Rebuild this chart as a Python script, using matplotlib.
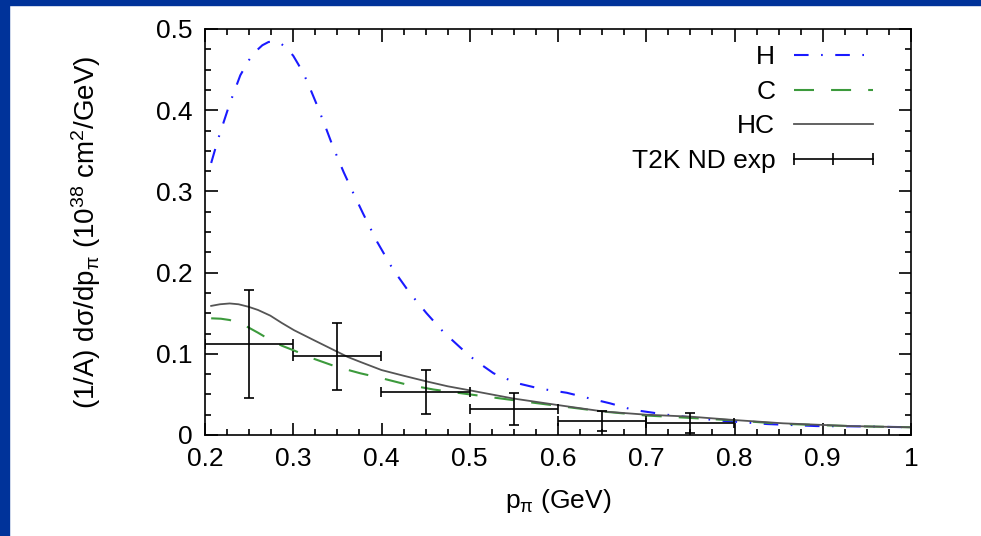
import numpy as np
import matplotlib
matplotlib.use("Agg")
import matplotlib.pyplot as plt
from matplotlib.lines import Line2D
from matplotlib.patches import Rectangle
from matplotlib.legend_handler import HandlerBase

plt.rcParams['font.family'] = ['Liberation Sans', 'DejaVu Sans']
plt.rcParams['mathtext.default'] = 'regular'

# H curve (dash-dot, blue)
h_x = [0.207, 0.215, 0.228, 0.24, 0.25, 0.258, 0.265, 0.272, 0.279, 0.286, 0.293,
       0.300, 0.306, 0.313, 0.319, 0.327, 0.336, 0.345, 0.357, 0.368, 0.379, 0.395,
       0.413, 0.432, 0.451, 0.47, 0.49, 0.506, 0.527, 0.553, 0.58, 0.61, 0.636,
       0.659, 0.685, 0.723, 0.78, 0.837, 0.893, 0.95, 1.0]
h_y = [0.335, 0.365, 0.408, 0.443, 0.462, 0.473, 0.480, 0.484, 0.485, 0.482, 0.476,
       0.467, 0.456, 0.442, 0.427, 0.406, 0.381, 0.355, 0.324, 0.298, 0.273, 0.238,
       0.204, 0.175, 0.150, 0.127, 0.107, 0.092, 0.076, 0.064, 0.057, 0.052, 0.045,
       0.039, 0.031, 0.025, 0.018, 0.0135, 0.011, 0.0105, 0.0095]

# C curve (dashed, green)
c_x = [0.207, 0.218, 0.228, 0.238, 0.249, 0.26, 0.274, 0.287, 0.301, 0.323, 0.349,
       0.376, 0.400, 0.429, 0.459, 0.500, 0.549, 0.599, 0.65, 0.70, 0.75, 0.80,
       0.85, 0.90, 0.95, 1.0]
c_y = [0.1437, 0.1432, 0.1416, 0.138, 0.1326, 0.126, 0.117, 0.110, 0.104, 0.094,
       0.084, 0.076, 0.070, 0.062, 0.056, 0.050, 0.043, 0.036, 0.029, 0.024, 0.021,
       0.018, 0.014, 0.012, 0.0105, 0.0095]

# HC curve (solid, gray)
hc_x = [0.207, 0.217, 0.228, 0.238, 0.249, 0.26, 0.274, 0.287, 0.301, 0.312, 0.323,
        0.336, 0.349, 0.362, 0.376, 0.388, 0.400, 0.425, 0.451, 0.475, 0.500, 0.549,
        0.599, 0.651, 0.700, 0.750, 0.799, 0.855, 0.931, 1.0]
hc_y = [0.159, 0.161, 0.162, 0.161, 0.158, 0.154, 0.147, 0.138, 0.129, 0.123, 0.117,
        0.110, 0.103, 0.096, 0.090, 0.085, 0.080, 0.073, 0.066, 0.060, 0.055, 0.045,
        0.037, 0.029, 0.025, 0.0226, 0.0185, 0.0144, 0.011, 0.0095]

# T2K ND data
exp_x = [0.25, 0.35, 0.45, 0.55, 0.65, 0.75]
exp_xerr = [0.05, 0.05, 0.05, 0.05, 0.05, 0.05]
exp_y = [0.112, 0.097, 0.053, 0.032, 0.017, 0.015]
exp_yerr = [0.066, 0.041, 0.027, 0.020, 0.012, 0.012]


class GnuErrHandler(HandlerBase):
    def create_artists(self, legend, orig, xd, yd, w, h, fs, trans):
        y = h / 2 - yd
        line = Line2D([-xd, w - xd], [y, y], color='k', lw=1.2, transform=trans)
        ticks = Line2D([-xd, w / 2 - xd, w - xd], [y, y, y], ls='none', marker='|',
                       ms=9, mew=1.2, color='k', transform=trans)
        return [line, ticks]


fig = plt.figure(figsize=(9.81, 5.36), dpi=100)
fig.patches.append(Rectangle((0, 0), 9 / 981, 1, transform=fig.transFigure,
                             color='#00339a', zorder=0))
fig.patches.append(Rectangle((0, 1 - 5 / 536), 1, 5 / 536, transform=fig.transFigure,
                             color='#00339a', zorder=0))

ax = fig.add_axes([205 / 981, 101 / 536, 706 / 981, 406 / 536])

h_line, = ax.plot(h_x, h_y, color='#1a1aff', lw=1.5, dashes=[7, 6, 0.8, 6])
c_line, = ax.plot(c_x, c_y, color='#3c9a3c', lw=1.5, dashes=[9.6, 8.2])
hc_line, = ax.plot(hc_x, hc_y, color='#555555', lw=1.3)
ax.errorbar(exp_x, exp_y, xerr=exp_xerr, yerr=exp_yerr, fmt='none', ecolor='k',
            elinewidth=1.2, capsize=3.5, capthick=1.2)
exp_proxy = Line2D([], [], color='k')

ax.set_xlim(0.2, 1.0)
ax.set_ylim(0, 0.5)
ax.set_xticks(np.arange(0.2, 1.01, 0.1))
ax.set_xticklabels(['0.2', '0.3', '0.4', '0.5', '0.6', '0.7', '0.8', '0.9', '1'])
ax.set_yticks(np.arange(0, 0.51, 0.1))
ax.set_yticklabels(['0', '0.1', '0.2', '0.3', '0.4', '0.5'])
ax.set_xticks(np.arange(0.2, 1.001, 0.025), minor=True)
ax.set_yticks(np.arange(0, 0.501, 0.025), minor=True)
ax.tick_params(which='both', direction='in', top=True, right=True, labelsize=19,
               width=1.2, color='k')
ax.tick_params(which='major', length=9, pad=9)
ax.tick_params(which='minor', length=4)
for s in ax.spines.values():
    s.set_linewidth(1.2)

ax.set_xlabel(r'p$_\pi$ (GeV)', fontsize=19)
ax.xaxis.set_label_coords(0.5, -0.128)
ax.set_ylabel(r'(1/A) d$\sigma$/dp$_\pi$ (10$^{38}$ cm$^2$/GeV)', fontsize=20)
ax.yaxis.set_label_coords(-0.145, 0.5)

ax.legend([h_line, c_line, hc_line, exp_proxy], ['H', 'C', 'HC', 'T2K ND exp'],
          handler_map={exp_proxy: GnuErrHandler()}, loc='upper right',
          bbox_to_anchor=(0.946, 0.96), frameon=False, markerfirst=False,
          fontsize=19, handlelength=3.0, handletextpad=0.7, labelspacing=0.4,
          borderpad=0, borderaxespad=0)

fig.savefig('out.png', dpi=100)
